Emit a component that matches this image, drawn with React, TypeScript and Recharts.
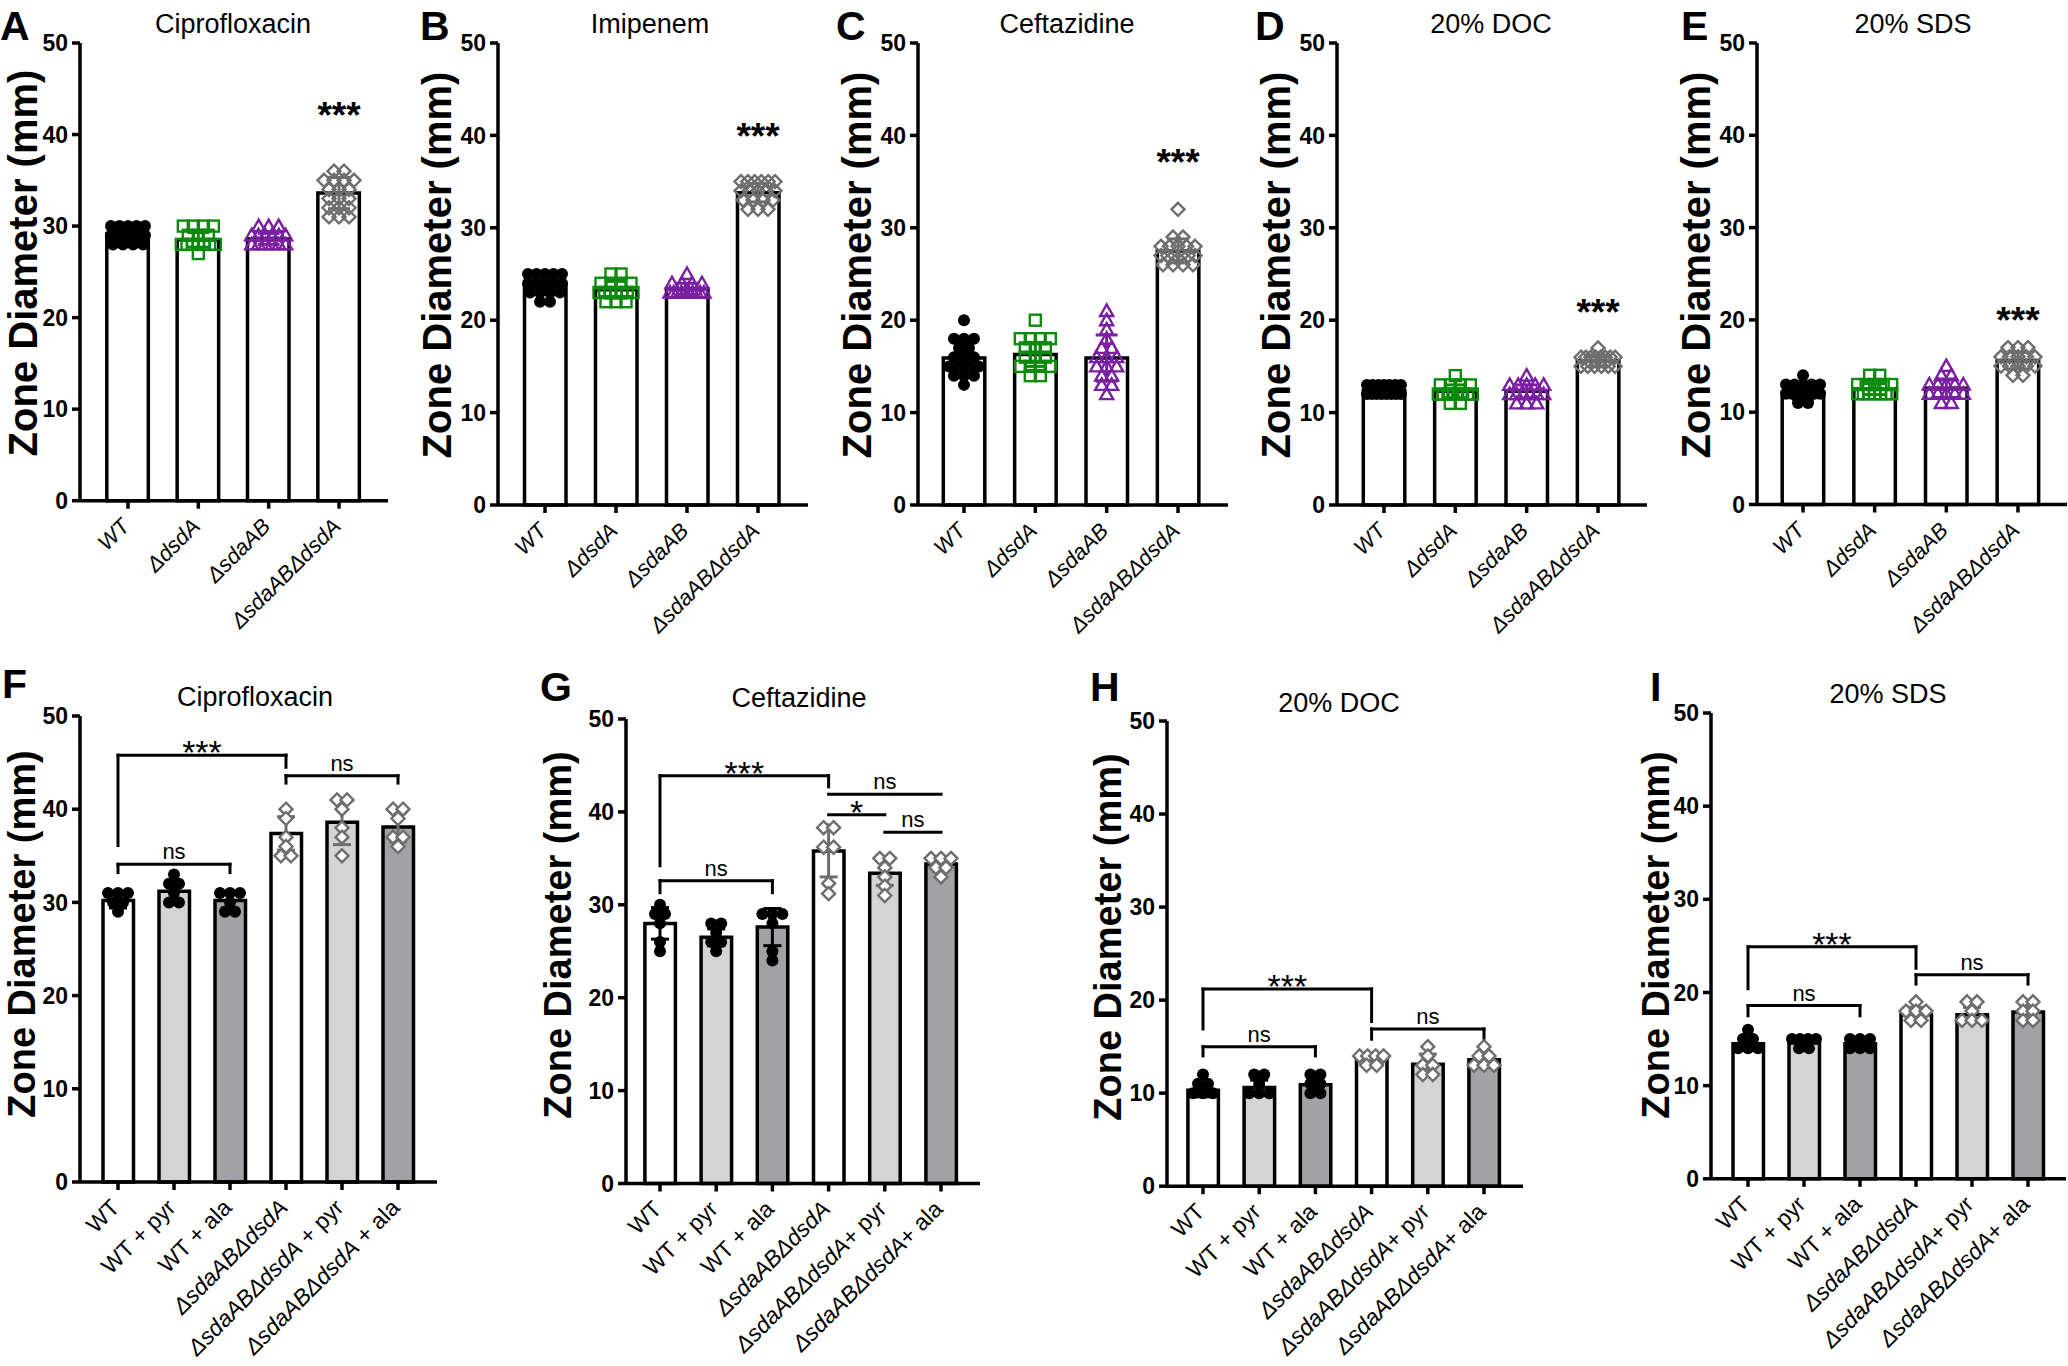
import React from "react";
import {
  ComposedChart,
  Bar,
  Cell,
  Scatter,
  ErrorBar,
  XAxis,
  YAxis,
  ReferenceLine,
  ReferenceDot,
} from "recharts";

const FONT = "'Liberation Sans', Arial, Helvetica, sans-serif";

// ---- categories / labels ----
const strains = ["WT", "ΔdsdA", "ΔsdaAB", "ΔsdaABΔdsdA"];
const supplementsF = ["WT", "WT + pyr", "WT + ala", "ΔsdaABΔdsdA", "ΔsdaABΔdsdA + pyr", "ΔsdaABΔdsdA + ala"];
const supplements = ["WT", "WT + pyr", "WT + ala", "ΔsdaABΔdsdA", "ΔsdaABΔdsdA+ pyr", "ΔsdaABΔdsdA+ ala"];
const yTicks = [0, 10, 20, 30, 40, 50];
const panelLetters = ["A", "B", "C", "D", "E", "F", "G", "H", "I"];
const panelTitles = [
  "Ciprofloxacin", "Imipenem", "Ceftazidine", "20% DOC", "20% SDS",
  "Ciprofloxacin", "Ceftazidine", "20% DOC", "20% SDS",
];
const yTitle = "Zone Diameter (mm)";

// ---- A: ciprofloxacin ----
const aMeans = [29.1, 28.5, 28.6, 33.6];
const aSd = [0.6, 0.8, 0.6, 1.7];
const aPoints = [
  [30, 30, 30, 30, 30, 29, 29, 29, 29, 29, 29, 28, 28, 28, 28],
  [30, 30, 30, 30, 29, 29, 29, 28, 28, 28, 28, 28, 28, 28, 27],
  [30, 30, 30, 29, 29, 29, 29, 29, 29, 28, 28, 28, 28, 28, 28],
  [36, 36, 35, 35, 35, 35, 34, 34, 34, 33, 33, 33, 32, 32, 32, 31, 31, 31],
];
const aStar = 42.2;

// ---- B: imipenem ----
const bMeans = [23.8, 23.3, 23.4, 33.8];
const bSd = [0.9, 0.9, 0.6, 1.0];
const bPoints = [
  [25, 25, 25, 25, 25, 24, 24, 24, 24, 24, 23, 23, 23, 23, 22, 22],
  [25, 25, 24, 24, 24, 24, 23, 23, 23, 23, 23, 23, 23, 22, 22, 22],
  [25, 24, 24, 24, 24, 23, 23, 23, 23, 23, 23, 23, 23, 23, 23],
  [35, 35, 35, 35, 35, 35, 34, 34, 34, 34, 34, 33, 33, 33, 33, 32, 32, 32],
];
const bStar = 40.0;

// ---- C: ceftazidine ----
const cMeans = [15.9, 16.3, 15.9, 27.5];
const cSd = [1.8, 1.3, 2.5, 1.3];
const cPoints = [
  [20, 18, 18, 18, 17, 17, 16, 16, 16, 15, 15, 15, 15, 14, 14, 14, 13],
  [20, 18, 18, 18, 18, 17, 17, 17, 16, 16, 16, 15, 15, 15, 15, 14, 14],
  [21, 20, 19, 18, 17, 17, 16, 16, 16, 15, 15, 15, 14, 14, 13, 13, 12],
  [32, 29, 29, 28, 28, 28, 28, 28, 27, 27, 27, 27, 27, 27, 26, 26, 26, 26],
];
const cStar = 37.1;

// ---- D: 20% DOC ----
const dMeans = [12.4, 12.3, 12.3, 15.6];
const dSd = [0.5, 0.7, 0.7, 0.6];
const dPoints = [
  [13, 13, 13, 13, 13, 13, 13, 12, 12, 12, 12, 12, 12, 12, 12],
  [14, 13, 13, 13, 13, 12, 12, 12, 12, 12, 12, 12, 12, 11, 11],
  [14, 13, 13, 13, 13, 13, 12, 12, 12, 12, 12, 12, 11, 11, 11],
  [17, 16, 16, 16, 16, 16, 16, 16, 16, 15, 15, 15, 15, 15, 15],
];
const dStar = 20.9;

// ---- E: 20% SDS ----
const eMeans = [12.2, 12.5, 12.6, 15.6];
const eSd = [0.8, 0.6, 1.0, 0.9];
const ePoints = [
  [14, 13, 13, 13, 13, 13, 12, 12, 12, 12, 12, 12, 12, 11, 11],
  [14, 14, 13, 13, 13, 13, 13, 12, 12, 12, 12, 12, 12, 12],
  [15, 14, 14, 13, 13, 13, 13, 13, 12, 12, 12, 12, 12, 11, 11],
  [17, 17, 17, 16, 16, 16, 16, 16, 15, 15, 15, 15, 15, 14, 14],
];
const eStar = 20.0;

// ---- F: ciprofloxacin + supplements ----
const fMeans = [30.2, 31.2, 30.2, 37.4, 38.6, 38.1];
const fSd = [0.8, 1.0, 0.8, 1.8, 2.4, 1.6];
const fPoints = [
  [31, 31, 31, 30, 30, 29],
  [33, 32, 32, 31, 30, 30],
  [31, 31, 31, 30, 29, 29],
  [40, 39, 37, 36, 35, 35],
  [41, 41, 40, 38, 37, 35],
  [40, 40, 39, 37, 37, 36],
];

// ---- G: ceftazidine + supplements ----
const gMeans = [28.0, 26.5, 27.6, 35.8, 33.4, 34.4];
const gSd = [1.7, 0.9, 2.0, 2.8, 1.3, 0.8];
const gPoints = [
  [30, 29, 29, 28, 26, 25],
  [28, 28, 27, 26, 26, 25],
  [29, 29, 29, 28, 25, 24],
  [38.3, 38.3, 36.2, 36.2, 32.3, 31.2],
  [35, 35, 34, 33, 32, 31],
  [35, 35, 35, 34, 34, 33],
];

// ---- H: 20% DOC + supplements ----
const hMeans = [10.3, 10.6, 10.9, 13.7, 13.1, 13.6];
const hSd = [0.7, 0.8, 0.9, 0.5, 1.1, 0.8];
const hPoints = [
  [12, 11, 11, 10, 10, 10],
  [12, 12, 11, 10, 10, 10],
  [12, 12, 11, 11, 10, 10],
  [14, 14, 14, 14, 13, 13],
  [15, 14, 13, 13, 12, 12],
  [15, 14, 14, 13, 13, 13],
];

// ---- I: 20% SDS + supplements ----
const iMeans = [14.5, 14.6, 14.5, 17.6, 17.6, 17.9];
const iSd = [0.7, 0.5, 0.5, 0.8, 0.8, 0.8];
const iPoints = [
  [16, 15, 15, 14, 14, 14],
  [15, 15, 15, 15, 14, 14],
  [15, 15, 15, 14, 14, 14],
  [19, 18, 18, 18, 17, 17],
  [19, 19, 18, 17, 17, 17],
  [19, 19, 18, 18, 17, 17],
];

type Bracket = { from: string; to: string; y: number; legFrom: number; legTo: number; text: string };

const fBrackets: Bracket[] = [
  { from: "WT", to: "ΔsdaABΔdsdA", y: 45.8, legFrom: 36.1, legTo: 44.5, text: "***" },
  { from: "WT", to: "WT + ala", y: 34.1, legFrom: 33.2, legTo: 33.2, text: "ns" },
  { from: "ΔsdaABΔdsdA", to: "ΔsdaABΔdsdA + ala", y: 43.6, legFrom: 42.8, legTo: 42.8, text: "ns" },
];
const gBrackets: Bracket[] = [
  { from: "WT", to: "ΔsdaABΔdsdA", y: 43.9, legFrom: 34.2, legTo: 42.7, text: "***" },
  { from: "WT", to: "WT + ala", y: 32.6, legFrom: 31.3, legTo: 31.3, text: "ns" },
  { from: "ΔsdaABΔdsdA", to: "ΔsdaABΔdsdA+ ala", y: 41.9, legFrom: 41.9, legTo: 41.9, text: "ns" },
  { from: "ΔsdaABΔdsdA", to: "ΔsdaABΔdsdA+ pyr", y: 39.7, legFrom: 39.7, legTo: 39.7, text: "*" },
  { from: "ΔsdaABΔdsdA+ pyr", to: "ΔsdaABΔdsdA+ ala", y: 37.8, legFrom: 37.8, legTo: 37.8, text: "ns" },
];
const hBrackets: Bracket[] = [
  { from: "WT", to: "ΔsdaABΔdsdA", y: 21.2, legFrom: 16.9, legTo: 17.7, text: "***" },
  { from: "WT", to: "WT + ala", y: 15.0, legFrom: 14.0, legTo: 14.0, text: "ns" },
  { from: "ΔsdaABΔdsdA", to: "ΔsdaABΔdsdA+ ala", y: 16.9, legFrom: 15.8, legTo: 15.8, text: "ns" },
];
const iBrackets: Bracket[] = [
  { from: "WT", to: "ΔsdaABΔdsdA", y: 24.9, legFrom: 20.4, legTo: 22.6, text: "***" },
  { from: "WT", to: "WT + ala", y: 18.6, legFrom: 17.5, legTo: 17.5, text: "ns" },
  { from: "ΔsdaABΔdsdA", to: "ΔsdaABΔdsdA+ ala", y: 21.9, legFrom: 20.9, legTo: 20.9, text: "ns" },
];

// ---- styling ----
type Marker = "circle" | "square" | "triangle" | "diamond";
const topMarkers: Marker[] = ["circle", "square", "triangle", "diamond"];
const topColors = ["#000000", "#0b8a0b", "#7b1fa2", "#6e6e6e"];
const topFills = ["#ffffff", "#ffffff", "#ffffff", "#ffffff"];
const botMarkers: Marker[] = ["circle", "circle", "circle", "diamond", "diamond", "diamond"];
const botColors = ["#000000", "#000000", "#000000", "#6e6e6e", "#6e6e6e", "#6e6e6e"];
const botFills = ["#ffffff", "#d4d4d4", "#a2a2a6", "#ffffff", "#d4d4d4", "#a2a2a6"];

type Geo = { axisX: number; axisEnd: number; y50: number; y0: number; padL: number; padR: number };

const Y_W = 70;
const TOP_M = 12;
const RIGHT_M = 6;
const X_H = 150;
const AXIS = { stroke: "#000", strokeWidth: 3.5 };

// spread points sharing a value side by side, like a scatter dot plot
function swarm(cat: string, values: number[], spacing: number, maxSpread: number) {
  const counts = new Map<number, number>();
  values.forEach((v) => counts.set(v, (counts.get(v) ?? 0) + 1));
  const seen = new Map<number, number>();
  return values.map((v) => {
    const n = counts.get(v) ?? 1;
    const k = seen.get(v) ?? 0;
    seen.set(v, k + 1);
    const step = n > 1 ? Math.min(spacing, maxSpread / (n - 1)) : 0;
    return { cat, v, dx: (k - (n - 1) / 2) * step };
  });
}

function Mark(props: any) {
  const { cx, cy, payload, kind, color, hollow } = props;
  if (cx == null || cy == null) return <g />;
  const x = cx + (payload?.dx ?? 0);
  const sw = 2.4;
  if (kind === "circle") return <circle cx={x} cy={cy} r={6} fill={color} />;
  if (kind === "square")
    return <rect x={x - 5.5} y={cy - 5.5} width={11} height={11} fill={hollow} stroke={color} strokeWidth={sw} />;
  if (kind === "triangle")
    return (
      <polygon
        points={`${x},${cy - 6.5} ${x + 6.5},${cy + 5} ${x - 6.5},${cy + 5}`}
        fill={hollow}
        stroke={color}
        strokeWidth={sw}
      />
    );
  return (
    <polygon
      points={`${x},${cy - 6.5} ${x + 6.5},${cy} ${x},${cy + 6.5} ${x - 6.5},${cy}`}
      fill={hollow}
      stroke={color}
      strokeWidth={sw}
    />
  );
}

function CatTick(props: any) {
  const { x, y, payload, italicAll, size } = props;
  const label = String(payload.value);
  const m = label.match(/^(Δ[^\s+]*)(.*)$/);
  const parts: [string, boolean][] = italicAll
    ? [[label, true]]
    : m
    ? [
        [m[1], true],
        [m[2], false],
      ]
    : [[label, false]];
  return (
    <g transform={`translate(${x + 3},${y + 17})`}>
      <text textAnchor="end" transform="rotate(-45)" fontSize={size} fontFamily={FONT} fill="#000" style={{ whiteSpace: "pre" }}>
        {parts.map(([t, it], k) => (
          <tspan key={k} fontStyle={it ? "italic" : "normal"}>
            {t}
          </tspan>
        ))}
      </text>
    </g>
  );
}

interface PanelProps {
  cats: string[];
  means: number[];
  sds: number[];
  points: number[][];
  fills: string[];
  markers: Marker[];
  colors: string[];
  hollow: string;
  geo: Geo;
  barSize: number;
  cap: number;
  spread: number;
  italicAll: boolean;
  tickFont: number;
  star?: number;
  brackets?: Bracket[];
}

function Panel(p: PanelProps) {
  const { axisX, axisEnd, y50, y0, padL, padR } = p.geo;
  const left = axisX - Y_W;
  const top = y50 - TOP_M;
  const width = axisEnd - axisX + Y_W + RIGHT_M;
  const height = TOP_M + (y0 - y50) + X_H;
  const barData = p.cats.map((cat, i) => ({ cat, mean: p.means[i], sd: p.sds[i] }));

  const lineProps = { stroke: "#000", strokeWidth: 3, strokeLinecap: "square" as const, ifOverflow: "extendDomain" as const };

  return (
    <div style={{ position: "absolute", left, top }}>
      <ComposedChart width={width} height={height} data={barData} margin={{ top: TOP_M, right: RIGHT_M, bottom: 0, left: 0 }}>
        <XAxis
          dataKey="cat"
          type="category"
          allowDuplicatedCategory={false}
          interval={0}
          padding={{ left: padL, right: padR }}
          height={X_H}
          tickSize={8}
          axisLine={AXIS}
          tickLine={AXIS}
          tick={(t: any) => <CatTick {...t} italicAll={p.italicAll} size={p.tickFont} />}
        />
        <YAxis
          type="number"
          domain={[0, 50]}
          ticks={yTicks}
          interval={0}
          width={Y_W}
          tickSize={8}
          tickMargin={4}
          axisLine={AXIS}
          tickLine={AXIS}
          tick={{ fill: "#000", fontSize: 23, fontWeight: 700, fontFamily: FONT }}
        />
        <Bar dataKey="mean" barSize={p.barSize} stroke="#000" strokeWidth={3.5} isAnimationActive={false}>
          {p.cats.map((c, i) => (
            <Cell key={c} fill={p.fills[i]} />
          ))}
        </Bar>
        {p.points.map((vals, i) => (
          <Scatter
            key={`pts-${i}`}
            data={swarm(p.cats[i], vals, 10, p.spread)}
            dataKey="v"
            isAnimationActive={false}
            shape={(s: any) => <Mark {...s} kind={p.markers[i]} color={p.colors[i]} hollow={p.hollow} />}
          />
        ))}
        {barData.map((d, i) => (
          <Scatter key={`sd-${i}`} data={[d]} dataKey="mean" isAnimationActive={false} shape={() => <g />}>
            <ErrorBar dataKey="sd" direction="y" width={p.cap} stroke={p.colors[i]} strokeWidth={3} isAnimationActive={false} />
          </Scatter>
        ))}
        {(p.brackets ?? []).flatMap((b, k) => {
          const isStar = b.text.includes("*");
          const out = [
            <ReferenceLine
              key={`h${k}`}
              segment={[
                { x: b.from, y: b.y },
                { x: b.to, y: b.y },
              ]}
              {...lineProps}
              label={{
                value: b.text,
                position: "top",
                offset: isStar ? -9 : 5,
                fontSize: isStar ? 34 : 22,
                fill: "#000",
                fontFamily: FONT,
              }}
            />,
          ];
          if (b.legFrom < b.y)
            out.push(
              <ReferenceLine
                key={`a${k}`}
                segment={[
                  { x: b.from, y: b.y },
                  { x: b.from, y: b.legFrom },
                ]}
                {...lineProps}
              />
            );
          if (b.legTo < b.y)
            out.push(
              <ReferenceLine
                key={`b${k}`}
                segment={[
                  { x: b.to, y: b.y },
                  { x: b.to, y: b.legTo },
                ]}
                {...lineProps}
              />
            );
          return out;
        })}
        {p.star != null && (
          <ReferenceDot
            x={p.cats[p.cats.length - 1]}
            y={p.star}
            r={0}
            fill="none"
            stroke="none"
            label={{ value: "***", position: "center", fontSize: 37, fontWeight: 700, fill: "#000", fontFamily: FONT }}
          />
        )}
      </ComposedChart>
    </div>
  );
}

// ---- layout ----
const geos: Geo[] = [
  { axisX: 80, axisEnd: 388, y50: 43.3, y0: 501, padL: 12.8, padR: 13.8 },
  { axisX: 498, axisEnd: 808, y50: 43, y0: 505, padL: 11.5, padR: 14.5 },
  { axisX: 918, axisEnd: 1228, y50: 43, y0: 505, padL: 10.3, padR: 14.3 },
  { axisX: 1337, axisEnd: 1647, y50: 43, y0: 505, padL: 11.3, padR: 13.3 },
  { axisX: 1757, axisEnd: 2067, y50: 43, y0: 504.5, padL: 10.2, padR: 13.2 },
  { axisX: 80, axisEnd: 437, y50: 716.3, y0: 1182.3, padL: 10, padR: 11 },
  { axisX: 626, axisEnd: 980, y50: 718.5, y0: 1183, padL: 5.9, padR: 10.9 },
  { axisX: 1167, axisEnd: 1523, y50: 720.8, y0: 1186, padL: 7.9, padR: 10.9 },
  { axisX: 1711, axisEnd: 2066, y50: 713, y0: 1178.8, padL: 9, padR: 10 },
];
const letterPos = [
  [0, 40], [420, 40], [836, 40], [1255, 40], [1681, 40],
  [2, 698], [540, 701], [1090, 701], [1650, 701],
];
const titlePos = [
  [233, 33], [650, 33], [1067, 33], [1491, 33], [1913, 33],
  [255, 706], [799, 707], [1339, 712], [1888, 703],
];
// [centre x, centre y, font size]
const yTitlePos = [
  [23, 263, 40], [437, 265, 40], [857, 265, 40], [1276, 265, 40], [1696, 265, 40],
  [22, 934, 38], [558, 935, 38], [1108, 937, 38], [1656, 935, 38],
];

const topStyle = {
  fills: topFills, markers: topMarkers, colors: topColors, hollow: "none",
  barSize: 41.5, cap: 11, spread: 34, italicAll: true, tickFont: 22,
};
const botStyle = {
  fills: botFills, markers: botMarkers, colors: botColors, hollow: "#ffffff",
  barSize: 30.5, cap: 9, spread: 24, italicAll: false, tickFont: 23,
};

const panels: PanelProps[] = [
  { cats: strains, means: aMeans, sds: aSd, points: aPoints, star: aStar, geo: geos[0], ...topStyle },
  { cats: strains, means: bMeans, sds: bSd, points: bPoints, star: bStar, geo: geos[1], ...topStyle },
  { cats: strains, means: cMeans, sds: cSd, points: cPoints, star: cStar, geo: geos[2], ...topStyle },
  { cats: strains, means: dMeans, sds: dSd, points: dPoints, star: dStar, geo: geos[3], ...topStyle },
  { cats: strains, means: eMeans, sds: eSd, points: ePoints, star: eStar, geo: geos[4], ...topStyle },
  { cats: supplementsF, means: fMeans, sds: fSd, points: fPoints, brackets: fBrackets, geo: geos[5], ...botStyle },
  { cats: supplements, means: gMeans, sds: gSd, points: gPoints, brackets: gBrackets, geo: geos[6], ...botStyle },
  { cats: supplements, means: hMeans, sds: hSd, points: hPoints, brackets: hBrackets, geo: geos[7], ...botStyle },
  { cats: supplements, means: iMeans, sds: iSd, points: iPoints, brackets: iBrackets, geo: geos[8], ...botStyle },
];

export default function App() {
  return (
    <div
      style={{
        position: "absolute",
        left: 0,
        top: 0,
        width: 2068,
        height: 1366,
        overflow: "hidden",
        background: "#fff",
        fontFamily: FONT,
      }}
    >
      <style>{".recharts-surface{overflow:visible}"}</style>
      {panels.map((p, i) => (
        <Panel key={panelLetters[i]} {...p} />
      ))}
      <svg width={2068} height={1366} style={{ position: "absolute", left: 0, top: 0, pointerEvents: "none" }}>
        {panelLetters.map((l, i) => (
          <text key={`l${l}`} x={letterPos[i][0]} y={letterPos[i][1]} fontSize={41} fontWeight={700} fontFamily={FONT} fill="#000">
            {l}
          </text>
        ))}
        {panelTitles.map((t, i) => (
          <text key={`t${i}`} x={titlePos[i][0]} y={titlePos[i][1]} fontSize={27} textAnchor="middle" fontFamily={FONT} fill="#000">
            {t}
          </text>
        ))}
        {yTitlePos.map(([x, y, fs], i) => (
          <text
            key={`y${i}`}
            transform={`translate(${x},${y}) rotate(-90)`}
            textAnchor="middle"
            dominantBaseline="central"
            fontSize={fs}
            fontWeight={700}
            fontFamily={FONT}
            fill="#000"
          >
            {yTitle}
          </text>
        ))}
      </svg>
    </div>
  );
}
